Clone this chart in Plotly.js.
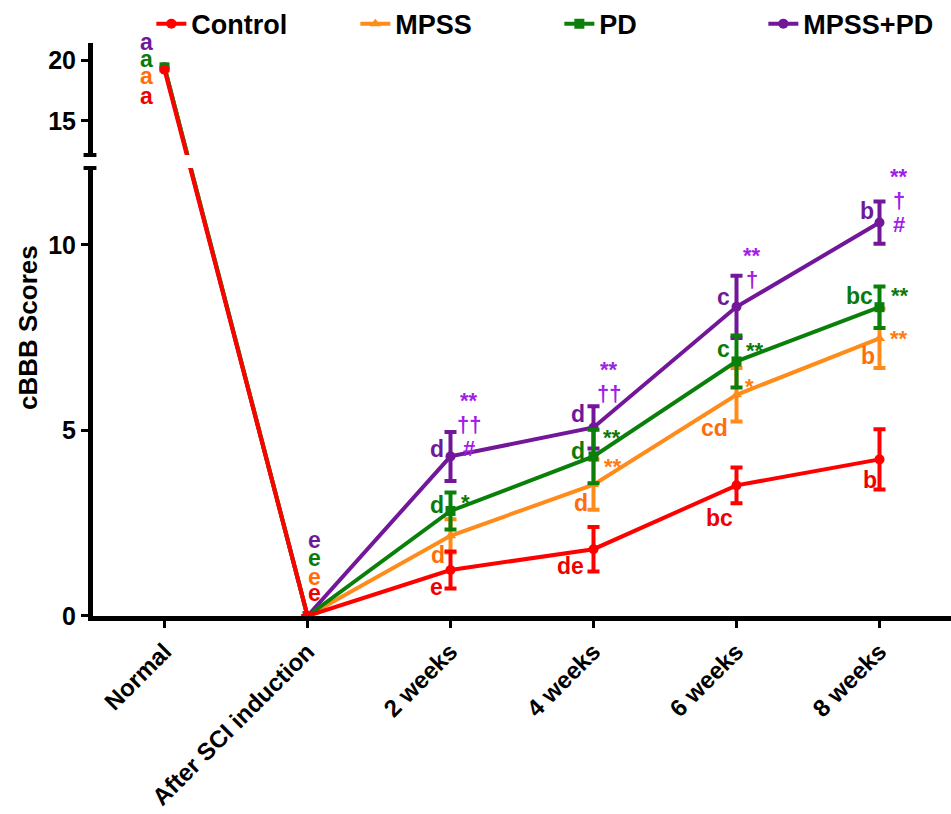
<!DOCTYPE html>
<html>
<head>
<meta charset="utf-8">
<script src="https://cdn.plot.ly/plotly-3.0.1.min.js"></script>
<style>html,body{margin:0;padding:0;background:#fff;}#chart{width:951px;height:814px;}</style>
</head>
<body>
<div id="chart"></div>
<script>
// ---------- data ----------
const categories = ['Normal', 'After SCI induction', '2 weeks', '4 weeks', '6 weeks', '8 weeks'];
const seriesNames = ['Control', 'MPSS', 'PD', 'MPSS+PD'];

const controlMean = [19.2, 0, 1.24, 1.80, 3.52, 4.22];
const controlSem  = [0, 0, 0.50, 0.60, 0.48, 0.81];
const mpssMean    = [19.4, 0, 2.16, 3.54, 5.96, 7.48];
const mpssSem     = [0, 0, 0.45, 0.68, 0.72, 0.80];
const pdMean      = [19.4, 0, 2.83, 4.30, 6.86, 8.32];
const pdSem       = [0, 0, 0.50, 0.72, 0.70, 0.56];
const comboMean   = [19.4, 0, 4.30, 5.08, 8.33, 10.60];
const comboSem    = [0, 0, 0.66, 0.57, 0.84, 0.57];

const controlLetters = ['a', 'e', 'e', 'de', 'bc', 'b'];
const mpssLetters    = ['a', 'e', 'd', 'd', 'cd', 'b'];
const pdLetters      = ['a', 'e', 'd', 'd', 'c', 'bc'];
const comboLetters   = ['a', 'e', 'd', 'd', 'c', 'b'];

const controlMarks = [[], [], [], [], [], []];
const mpssMarks    = [[], [], [], ['**'], ['*'], ['**']];
const pdMarks      = [[], [], ['*'], ['**'], ['**'], ['**']];
const comboMarks   = [[], [], ['**', '††', '#'], ['**', '††'], ['**', '†'], ['**', '†', '#']];

const lowerTicks = [0, 5, 10];
const upperTicks = [15, 20];

// ---------- geometry / styles ----------
const lowerDomain = [0, 0.7818];
const upperDomain = [0.8045, 1];
const lowerRange = [0, 12.07];
const upperRange = [12.2, 21.4];

// y2 value -> equivalent y value (straight pixel line across the break)
function upperToLower(v) {
  const p = upperDomain[0] + (v - upperRange[0]) / (upperRange[1] - upperRange[0]) * (upperDomain[1] - upperDomain[0]);
  return lowerRange[0] + (p - lowerDomain[0]) / (lowerDomain[1] - lowerDomain[0]) * (lowerRange[1] - lowerRange[0]);
}
function lowerToUpper(v) {
  const p = lowerDomain[0] + (v - lowerRange[0]) / (lowerRange[1] - lowerRange[0]) * (lowerDomain[1] - lowerDomain[0]);
  return upperRange[0] + (p - upperDomain[0]) / (upperDomain[1] - upperDomain[0]) * (upperRange[1] - upperRange[0]);
}

const FONT = 'Liberation Sans, Arial, sans-serif';
const MARK_LINE = 24;

const styles = {
  'Control': {line: '#ff0000', text: '#ee0000', mark: '#ee0000', symbol: 'circle', rank: 1,
    letterOff: [[-18, 26], [7, -23], [-14, 17], [-23, 17], [-17, 33], [-10, 21]],
    markOff: [[0,0],[0,0],[0,0],[0,0],[0,0],[0,0]]},
  'MPSS': {line: '#ff8c1a', text: '#ff6d0a', mark: '#ff7a10', symbol: 'triangle-up', rank: 2,
    letterOff: [[-18, 9], [7, -39], [-13, 19], [-13, 18], [-22, 33], [-12, 18]],
    markOff: [[0,0],[0,0],[0,0],[19, -18],[13, -8],[19, 0]]},
  'PD': {line: '#0a800a', text: '#0a7a0a', mark: '#0a7a0a', symbol: 'square', rank: 3,
    letterOff: [[-18, -8], [7, -58], [-14, -6], [-16, -5], [-13, -12], [-20, -11]],
    markOff: [[0,0],[0,0],[15, -8],[18, -19],[18, -11],[20, -12]]},
  'MPSS+PD': {line: '#72169a', text: '#6e1a98', mark: '#a020e6', symbol: 'circle', rank: 4,
    letterOff: [[-18, -25], [7, -76], [-14, -7], [-16, -13], [-13, -10], [-13, -12]],
    markOff: [[0,0],[0,0],[18, -56],[15, -58],[15, -51],[19, -46]]}
};

const data = {
  'Control': {mean: controlMean, sem: controlSem, letters: controlLetters, marks: controlMarks},
  'MPSS': {mean: mpssMean, sem: mpssSem, letters: mpssLetters, marks: mpssMarks},
  'PD': {mean: pdMean, sem: pdSem, letters: pdLetters, marks: pdMarks},
  'MPSS+PD': {mean: comboMean, sem: comboSem, letters: comboLetters, marks: comboMarks}
};

const drawOrder = ['MPSS+PD', 'MPSS', 'PD', 'Control'];
const traces = [];
const annotations = [];

drawOrder.forEach(name => {
  const d = data[name], s = styles[name];
  const lineStyle = {color: s.line, width: 4};
  const mk = {color: s.line, symbol: s.symbol, size: 10};
  // bridge Normal -> After SCI, drawn on both axis pieces (clipped by each)
  traces.push({x: categories.slice(0, 2), y: [upperToLower(d.mean[0]), d.mean[1]], yaxis: 'y',
    mode: 'lines', line: lineStyle, showlegend: false, hoverinfo: 'skip'});
  traces.push({x: categories.slice(0, 2), y: [d.mean[0], lowerToUpper(d.mean[1])], yaxis: 'y2',
    mode: 'lines', line: lineStyle, showlegend: false, hoverinfo: 'skip'});
  // Normal point on upper axis
  traces.push({x: categories.slice(0, 1), y: d.mean.slice(0, 1), yaxis: 'y2', mode: 'markers',
    marker: mk, showlegend: false, cliponaxis: false});
  // main series on lower axis
  traces.push({x: categories.slice(1), y: d.mean.slice(1), yaxis: 'y', mode: 'lines+markers',
    name: name, legendrank: s.rank, line: lineStyle, marker: mk, cliponaxis: false,
    error_y: {type: 'data', array: d.sem.slice(1), visible: true, color: s.line, thickness: 4, width: 6}});

  // letters
  d.letters.forEach((t, i) => {
    const off = s.letterOff[i];
    annotations.push({x: categories[i], y: d.mean[i], xref: 'x', yref: i === 0 ? 'y2' : 'y',
      text: t, showarrow: false, xshift: off[0], yshift: -off[1], xanchor: 'center', yanchor: 'middle',
      font: {family: FONT, size: 23, color: s.text, weight: 700}});
  });
  // significance marks (one annotation per line)
  d.marks.forEach((m, i) => {
    const off = s.markOff[i];
    m.forEach((t, k) => {
      annotations.push({x: categories[i], y: d.mean[i], xref: 'x', yref: 'y',
        text: t, showarrow: false, xshift: off[0], yshift: -(off[1] + k * MARK_LINE),
        xanchor: 'center', yanchor: 'middle',
        font: {family: FONT, size: 22, color: s.mark, weight: 700}});
    });
  });
});

annotations.push({xref: 'paper', yref: 'paper', x: -0.076, y: 0.504, text: 'cBBB Scores', textangle: -90,
  showarrow: false, xanchor: 'center', yanchor: 'middle', font: {family: FONT, size: 26, color: '#000', weight: 700}});

const tickFont = {family: FONT, size: 25, color: '#000', weight: 700};

const layout = {
  width: 951, height: 814,
  margin: {l: 93, r: 0, t: 43, b: 198, autoexpand: false},
  paper_bgcolor: '#ffffff', plot_bgcolor: 'rgba(0,0,0,0)',
  showlegend: true,
  legend: {orientation: 'h', x: 0.068, xanchor: 'left', y: 1.033, yanchor: 'middle',
    entrywidth: 159, entrywidthmode: 'pixels', traceorder: 'normal',
    font: {family: FONT, size: 27, color: '#000', weight: 700}, bgcolor: 'rgba(0,0,0,0)'},
  xaxis: {type: 'category', categoryorder: 'array', categoryarray: categories, range: [-0.5, 5.5],
    showgrid: false, zeroline: false, showline: true, linecolor: '#000', linewidth: 5,
    ticks: 'outside', ticklen: 7, tickwidth: 3, tickcolor: '#000', tickangle: -45,
    tickfont: {family: FONT, size: 24, color: '#000', weight: 700}, anchor: 'y', automargin: false},
  yaxis: {domain: lowerDomain, range: lowerRange, tickvals: lowerTicks, showgrid: false, zeroline: false,
    showline: true, linecolor: '#000', linewidth: 5, ticks: 'outside', ticklen: 7, tickwidth: 3,
    tickcolor: '#000', tickfont: tickFont, anchor: 'x', automargin: false},
  yaxis2: {domain: upperDomain, range: upperRange, tickvals: upperTicks, showgrid: false, zeroline: false,
    showline: true, linecolor: '#000', linewidth: 5, ticks: 'outside', ticklen: 7, tickwidth: 3,
    tickcolor: '#000', tickfont: tickFont, anchor: 'x', automargin: false},
  annotations: annotations,
  shapes: [
    {type: 'line', xref: 'paper', yref: 'y domain', x0: -0.011, x1: 0.004, y0: 1, y1: 1, line: {color: '#000', width: 4}},
    {type: 'line', xref: 'paper', yref: 'y2 domain', x0: -0.011, x1: 0.004, y0: 0, y1: 0, line: {color: '#000', width: 4}}
  ]
};

Plotly.newPlot('chart', traces, layout, {displayModeBar: false, staticPlot: true});
</script>
</body>
</html>
